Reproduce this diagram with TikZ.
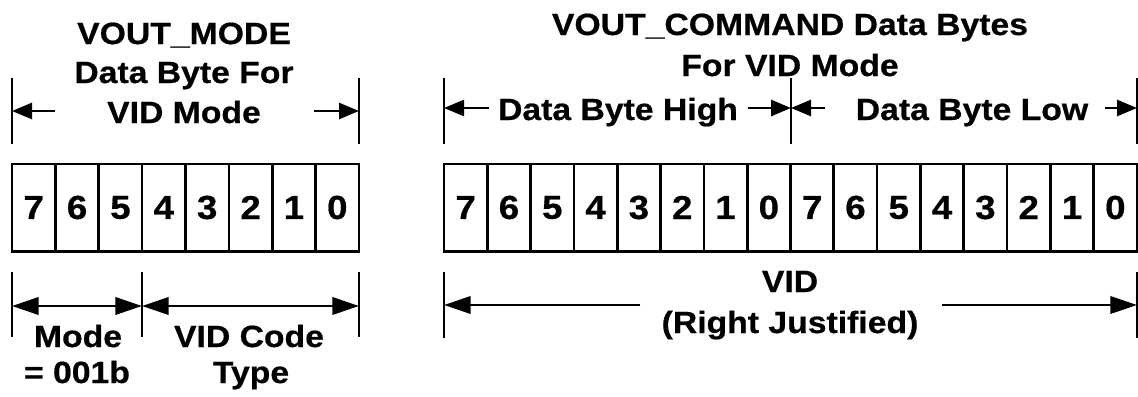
\documentclass[tikz,border=0pt]{standalone}
\usepackage{fontspec}
\setmainfont{Liberation Sans}[FakeStretch=1.1, BoldFeatures={FakeBold=0.6}]
\usetikzlibrary{arrows.meta}
\begin{document}
\begin{tikzpicture}[x=0.75pt,y=-0.75pt,
  cell/.style={draw, line width=2pt, minimum width=32.5pt, minimum height=65.5pt,
    inner sep=0pt, outer sep=0pt, font=\fontsize{25}{30}\selectfont\bfseries},
  lbl/.style={anchor=base, inner sep=0pt, font=\fontsize{23}{28}\selectfont\bfseries},
  tick/.style={line width=1.6pt},
  toparr/.style={line width=2pt, -{Triangle[length=15pt,width=12pt]}},
  botarr/.style={line width=2pt, -{Triangle[length=20pt,width=13pt]}},
  dblarr/.style={line width=2pt, {Triangle[length=20pt,width=13pt]}-{Triangle[length=20pt,width=13pt]}}
]
\useasboundingbox (0,0) rectangle (1138,396);

% ---- register cells ----
\foreach \i in {0,...,7} {
  \pgfmathtruncatemacro\b{7-\i}
  \node[cell] (L\i) at ({12+43.375*(\i+0.5)},207.5) {\b};
}
\foreach \j in {0,...,15} {
  \pgfmathtruncatemacro\b{7-mod(\j,8)}
  \node[cell] (R\j) at ({444+43.3125*(\j+0.5)},207.5) {\b};
}

% ---- titles ----
\node[lbl] (lt1) at (184,44) {VOUT\_MODE};
\node[lbl] (lt2) at (184,83) {Data Byte For};
\node[lbl] (lt3) at (184,123) {VID Mode};
\node[lbl] (rt1) at (790,35) {VOUT\_COMMAND Data Bytes};
\node[lbl] (rt2) at (790,76) {For VID Mode};
\node[lbl] (rhi) at (618,120) {Data Byte High};
\node[lbl] (rlo) at (972,120) {Data Byte Low};

% ---- field labels ----
\node[lbl] (m1) at (78,347) {Mode};
\node[lbl] (m2) at (77,383) {= 001b};
\node[lbl] (c1) at (249,347) {VID Code};
\node[lbl] (c2) at (251,383) {Type};
\node[lbl] (v1) at (790,292) {VID};
\node[lbl] (v2) at (790,333) {(Right Justified)};

% ---- extension lines, top ----
\coordinate (a0) at (12,78);   \coordinate (a1) at (12,144);
\coordinate (b0) at (359,78);  \coordinate (b1) at (359,144);
\coordinate (c0) at (444,78);  \coordinate (c1) at (444,144);
\coordinate (d0) at (791,78);  \coordinate (d1) at (791,144);
\coordinate (e0) at (1137,78); \coordinate (e1) at (1137,144);
\draw[tick] (a0) -- (a1);
\draw[tick] (b0) -- (b1);
\draw[tick] (c0) -- (c1);
\draw[tick] (d0) -- (d1);
\draw[tick] (e0) -- (e1);

% ---- dimension arrows, top ----
\coordinate (ta) at (12,111);   \coordinate (tat) at (55,111);
\coordinate (tb) at (359,111);  \coordinate (tbt) at (314,111);
\coordinate (tc) at (444,108);  \coordinate (tct) at (489,108);
\coordinate (td) at (791,108);  \coordinate (tdl) at (748,108);
\coordinate (tdr) at (825,108);
\coordinate (te) at (1137,108); \coordinate (tet) at (1105,108);
\draw[toparr] (tat) -- (ta);
\draw[toparr] (tbt) -- (tb);
\draw[toparr] (tct) -- (tc);
\draw[toparr] (tdl) -- (td);
\draw[toparr] (tdr) -- (td);
\draw[toparr] (tet) -- (te);

% ---- extension lines, bottom ----
\coordinate (f0) at (12,272);   \coordinate (f1) at (12,337);
\coordinate (g0) at (142,272);  \coordinate (g1) at (142,337);
\coordinate (h0) at (359,272);  \coordinate (h1) at (359,337);
\coordinate (k0) at (444,272);  \coordinate (k1) at (444,338);
\coordinate (n0) at (1137,272); \coordinate (n1) at (1137,338);
\draw[tick] (f0) -- (f1);
\draw[tick] (g0) -- (g1);
\draw[tick] (h0) -- (h1);
\draw[tick] (k0) -- (k1);
\draw[tick] (n0) -- (n1);

% ---- dimension arrows, bottom ----
\coordinate (ba) at (12,306);  \coordinate (bg) at (142,306);
\coordinate (bh) at (359,306);
\coordinate (bk) at (444,305); \coordinate (bkt) at (640,305);
\coordinate (bn) at (1137,305); \coordinate (bnt) at (942,305);
\draw[dblarr] (ba) -- (bg);
\draw[dblarr] (bg) -- (bh);
\draw[botarr] (bkt) -- (bk);
\draw[botarr] (bnt) -- (bn);
\end{tikzpicture}
\end{document}
